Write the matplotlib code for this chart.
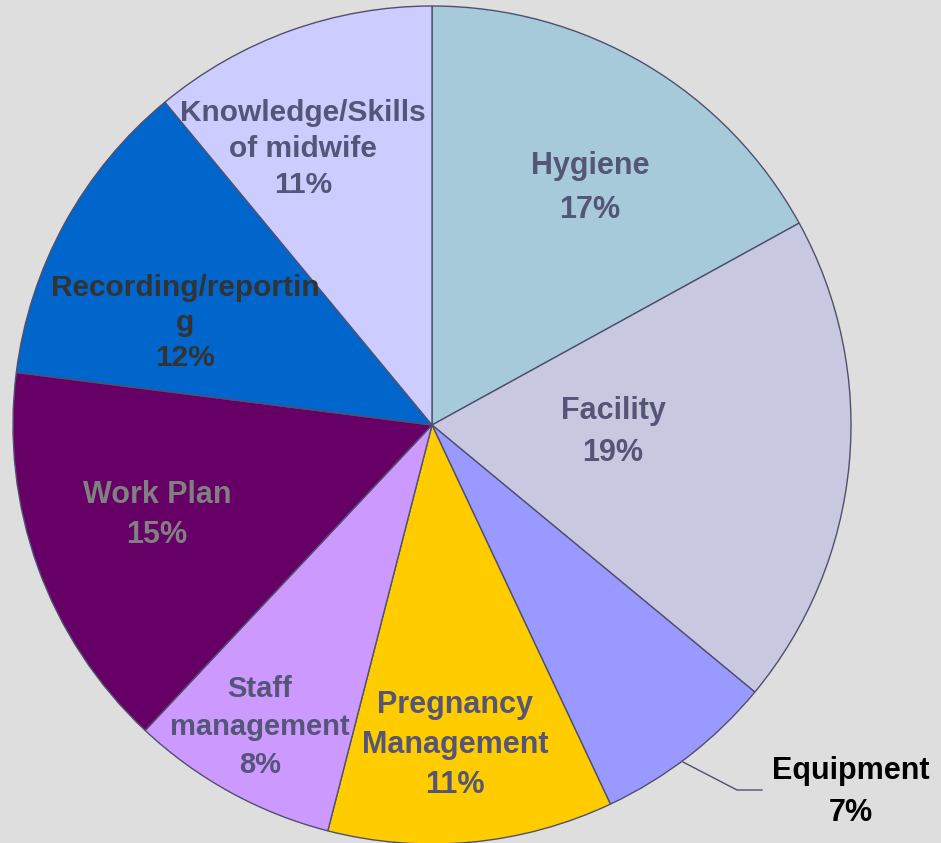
import matplotlib.pyplot as plt

categories = ['Hygiene', 'Facility', 'Equipment', 'Pregnancy\nManagement', 'Staff\nmanagement',
              'Work Plan', 'Recording/reportin\ng', 'Knowledge/Skills\nof midwife']
shares = [17, 19, 7, 11, 8, 15, 12, 11]

colors = ['#A6CAD9', '#C8C8E0', '#9999FF', '#FFCC00', '#CC99FF', '#660066', '#0066CC', '#CCCCFF']
text_colors = ['#555577', '#555577', '#000000', '#555577', '#555577', '#808080', '#333333', '#555577']
# label centres in pixels relative to the pie centre, font size, line spacing
label_pos = [(158, 237), (181, -7), (419, -367), (23, -320), (-172, -302), (-275, -90), (-247, 102), (-129, 276)]
label_size = [22, 22, 22, 22, 21, 22, 21.5, 21.5]
label_ls = [1.62, 1.54, 1.52, 1.42, 1.45, 1.47, 1.32, 1.36]

bg = '#DEDEDE'
fig = plt.figure(figsize=(9.41, 8.43), dpi=100, facecolor=bg)
ax = fig.add_axes([0, 0, 1, 1])
ax.set_facecolor(bg)

R = 419
ax.pie(shares, colors=colors, startangle=90, counterclock=False, radius=R,
       wedgeprops=dict(edgecolor='#50506E', linewidth=1.0))

for i, cat in enumerate(categories):
    x, y = label_pos[i]
    ax.text(x, y, f'{cat}\n{shares[i]}%', ha='center', va='center', fontsize=label_size[i],
            fontweight='bold', color=text_colors[i], family='Liberation Sans',
            linespacing=label_ls[i])

# leader line for Equipment
ax.plot([251, 305, 330], [-337, -365, -365], color='#50506E', lw=1.0)

ax.set_xlim(-432, 941 - 432)
ax.set_ylim(-(843 - 425), 425)
ax.set_aspect('equal')
ax.axis('off')

plt.savefig('out.png', dpi=100, facecolor=bg)
